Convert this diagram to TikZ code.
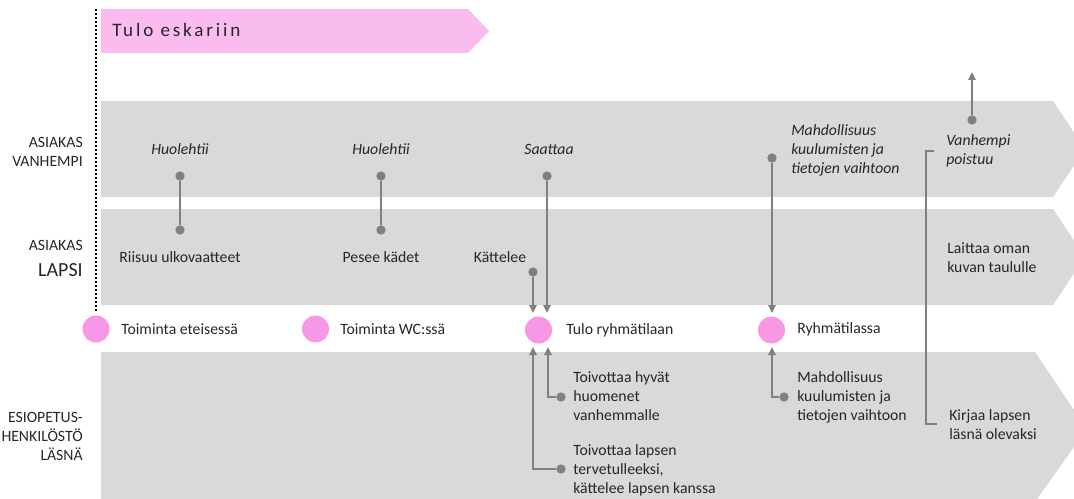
\documentclass[tikz,border=0pt]{standalone}
\usepackage{fontspec}
\setmainfont{Carlito}
\newfontfamily\spacedfont[LetterSpace=15]{Carlito}
\usetikzlibrary{arrows.meta}
\definecolor{bandgray}{RGB}{217,217,217}
\definecolor{pinkarrow}{RGB}{250,187,239}
\definecolor{pinkdot}{RGB}{246,152,230}
\definecolor{conngray}{RGB}{128,128,128}
\definecolor{txtcol}{RGB}{38,38,38}
\newcommand{\blk}[2][l]{\begin{tabular}[t]{@{}#1@{}}#2\end{tabular}}
\begin{document}
\begin{tikzpicture}[x=0.75pt,y=-0.75pt,
  txt/.style={font=\fontsize{11.8}{14.25}\selectfont, text=txtcol, inner sep=0pt},
  itxt/.style={txt, font=\fontsize{11.8}{14.25}\selectfont\itshape},
  lbl/.style={txt, anchor=base east},
  bandshape/.style={fill=bandgray, draw=none},
  gdot/.style={circle, fill=conngray, inner sep=0pt, minimum size=7pt},
  pdot/.style={circle, fill=pinkdot, inner sep=0pt, minimum size=20.25pt},
  conn/.style={draw=conngray, line width=1.2pt},
  arr/.style={conn, -{Triangle[length=6pt,width=5.5pt]}}
]
\useasboundingbox (0,0) rectangle (1074,499);
% top pink arrow
\fill[pinkarrow] (101,9) -- (468,9) -- (489,31) -- (468,53) -- (101,53) -- cycle;
\node[anchor=base west, inner sep=0pt, text=txtcol, font=\fontsize{14.3}{17}\spacedfont] (tulo) at (112,37) {Tulo eskariin};
% dotted line
\draw[black, line width=1.5pt, dash pattern=on 1.5pt off 1.5pt] (96,9) -- (96,312);
% bands
\fill[bandgray] (101,101) -- (1053,101) -- (1074,132.5) -- (1074,165.5) -- (1053,197) -- (101,197) -- cycle;
\fill[bandgray] (101,209) -- (1053,209) -- (1074,240.5) -- (1074,273.5) -- (1053,305) -- (101,305) -- cycle;
\fill[bandgray] (101,352) -- (1035,352) -- (1074,410) -- (1074,447) -- (1037,499) -- (101,499) -- cycle;
% left labels
\node[lbl] (l1) at (83,147.5) {\blk[r]{ASIAKAS\\VANHEMPI}};
\node[lbl] (l2) at (83,250) {ASIAKAS};
\node[lbl, font=\fontsize{15}{18}\selectfont] (l3) at (83,276) {LAPSI};
\node[lbl] (l4) at (83,422) {\blk[r]{ESIOPETUS-\\HENKILÖSTÖ\\LÄSNÄ}};
% band 1 texts
\node[itxt, anchor=base] (h1) at (180,155) {Huolehtii};
\node[itxt, anchor=base] (h2) at (381,155) {Huolehtii};
\node[itxt, anchor=base] (sa) at (549,155) {Saattaa};
\node[itxt, anchor=base west] (ma) at (791,136) {\blk{Mahdollisuus\\kuulumisten ja\\tietojen vaihtoon}};
\node[itxt, anchor=base west] (vp) at (946,146) {\blk{Vanhempi\\poistuu}};
% band 2 texts
\node[txt, anchor=base] (ri) at (180,262) {Riisuu ulkovaatteet};
\node[txt, anchor=base] (pe) at (381,262) {Pesee kädet};
\node[txt, anchor=base] (ka) at (500,262) {Kättelee};
\node[txt, anchor=base west] (la) at (947,253) {\blk{Laittaa oman\\kuvan taululle}};
% pink circles and labels
\node[pdot] (c1) at (96,329) {};
\node[pdot] (c2) at (315.5,329) {};
\node[pdot] (c3) at (538.5,330) {};
\node[pdot] (c4) at (771.5,330) {};
\node[txt, anchor=base west] (t1) at (121,334) {Toiminta eteisessä};
\node[txt, anchor=base west] (t2) at (340,334) {Toiminta WC:ssä};
\node[txt, anchor=base west] (t3) at (566,334) {Tulo ryhmätilaan};
\node[txt, anchor=base west] (t4) at (797,333) {Ryhmätilassa};
% band 3 texts
\node[txt, anchor=base west] (th) at (573,382) {\blk{Toivottaa hyvät\\huomenet\\vanhemmalle}};
\node[txt, anchor=base west] (tl) at (573,455) {\blk{Toivottaa lapsen\\tervetulleeksi,\\kättelee lapsen kanssa}};
\node[txt, anchor=base west] (mk) at (797,382) {\blk{Mahdollisuus\\kuulumisten ja\\tietojen vaihtoon}};
\node[txt, anchor=base west] (ki) at (949,420) {\blk{Kirjaa lapsen\\läsnä olevaksi}};
% dots
\node[gdot] (d1a) at (180,176) {};
\node[gdot] (d1b) at (180,230) {};
\node[gdot] (d2a) at (381,176) {};
\node[gdot] (d2b) at (381,230) {};
\node[gdot] (dk) at (533,272) {};
\node[gdot] (ds) at (547,176) {};
\node[gdot] (dm) at (772,158) {};
\node[gdot] (dv) at (972,120) {};
\node[gdot] (dt1) at (561,397) {};
\node[gdot] (dt2) at (561,469) {};
\node[gdot] (dr) at (784,397) {};
% arrow end coordinates
\coordinate (ek) at (533,313);
\coordinate (es) at (547,313);
\coordinate (em) at (772,313);
\coordinate (ev) at (972,72);
\coordinate (et1) at (548,347);
\coordinate (et2) at (533,347);
\coordinate (er) at (772,347);
\coordinate (bt) at (934,151);
\coordinate (bb) at (937,424);
% connectors
\draw[conn] (d1a) -- (d1b);
\draw[conn] (d2a) -- (d2b);
\draw[arr] (dk) -- (ek);
\draw[arr] (ds) -- (es);
\draw[arr] (dm) -- (em);
\draw[arr] (dv) -- (ev);
\draw[arr] (dt1) -| (et1);
\draw[arr] (dt2) -| (et2);
\draw[arr] (dr) -| (er);
\draw[conn] (bt) -- (926,151) |- (bb);
\end{tikzpicture}
\end{document}
